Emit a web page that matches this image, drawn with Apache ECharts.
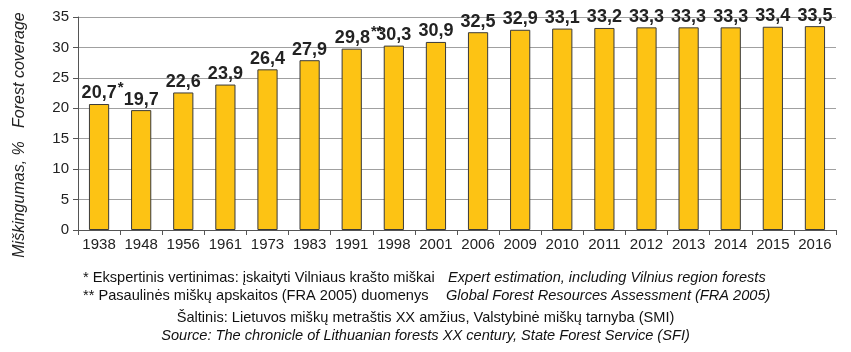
<!DOCTYPE html>
<html>
<head>
<meta charset="utf-8">
<script src="https://cdn.jsdelivr.net/npm/echarts@6/dist/echarts.min.js"></script>
<style>
  html, body { margin: 0; padding: 0; background: #fff; }
  #chart { width: 851px; height: 352px; }
</style>
</head>
<body>
<div id="chart"></div>
<script>
const years = ['1938', '1948', '1956', '1961', '1973', '1983', '1991', '1998', '2001', '2006',
               '2009', '2010', '2011', '2012', '2013', '2014', '2015', '2016'];
const coverage = [20.7, 19.7, 22.6, 23.9, 26.4, 27.9, 29.8, 30.3, 30.9, 32.5,
                  32.9, 33.1, 33.2, 33.3, 33.3, 33.3, 33.4, 33.5];
const notes = ['*', '', '', '', '', '', '**', '', '', '', '', '', '', '', '', '', '', ''];

const chart = echarts.init(document.getElementById('chart'));
const font = 'Liberation Sans, Arial, sans-serif';

const barData = coverage.map(function(v, i) {
    const item = { value: v };
    if (notes[i]) {
        item.label = { offset: [notes[i].length * 3.5, 0] };
    }
    return item;
});

const option = {
    animation: false,
    grid: { left: 78, right: 15, top: 17, bottom: 122 },
    xAxis: {
        type: 'category',
        data: years,
        axisLine: { lineStyle: { color: '#555', width: 1 } },
        axisTick: { show: true, length: 5, lineStyle: { color: '#555' } },
        axisLabel: { interval: 0, color: '#222', fontSize: 15, fontFamily: font, margin: 7 }
    },
    yAxis: {
        type: 'value',
        min: 0,
        max: 35,
        interval: 5,
        axisLine: { show: true, lineStyle: { color: '#555', width: 1 } },
        axisTick: { show: true, length: 5, lineStyle: { color: '#555' } },
        axisLabel: { color: '#222', fontSize: 15, fontFamily: font, margin: 9 },
        splitLine: { lineStyle: { color: '#a0a0a0', width: 1 } }
    },
    series: [{
        type: 'bar',
        data: barData,
        barWidth: '48%',
        itemStyle: { color: '#FDC314', borderColor: '#3a3a3a', borderWidth: 1 },
        label: {
            show: true,
            position: 'top',
            distance: 4,
            formatter: function(p) {
                const s = p.value.toFixed(1).replace('.', ',');
                const n = notes[p.dataIndex];
                return '{v|' + s + '}' + (n ? '{s|' + n + '}' : '');
            },
            rich: {
                v: { fontSize: 18, fontWeight: 'bold', color: '#222', fontFamily: font, lineHeight: 20, padding: [7, 0, 0, 0] },
                s: { fontSize: 15, fontWeight: 'bold', color: '#222', fontFamily: font, lineHeight: 15, verticalAlign: 'top', padding: [0, 0, 0, 1] }
            }
        }
    }],
    graphic: [
        {
            type: 'text', x: 20, y: 135, rotation: Math.PI / 2,
            style: {
                text: 'Miškingumas, %   Forest coverage',
                font: 'italic 16px ' + font, fill: '#222',
                align: 'center', verticalAlign: 'middle'
            }
        },
        {
            type: 'text', left: 83, top: 270,
            style: { text: '* Ekspertinis vertinimas: įskaityti Vilniaus krašto miškai', font: '14.6px ' + font, fill: '#111' }
        },
        {
            type: 'text', left: 448, top: 270,
            style: { text: 'Expert estimation, including Vilnius region forests', font: 'italic 14.6px ' + font, fill: '#111' }
        },
        {
            type: 'text', left: 83, top: 288,
            style: { text: '** Pasaulinės miškų apskaitos (FRA 2005) duomenys', font: '14.6px ' + font, fill: '#111' }
        },
        {
            type: 'text', left: 446, top: 288,
            style: { text: 'Global Forest Resources Assessment (FRA 2005)', font: 'italic 14.6px ' + font, fill: '#111' }
        },
        {
            type: 'text', left: 'center', top: 310,
            style: { text: 'Šaltinis: Lietuvos miškų metraštis XX amžius, Valstybinė miškų tarnyba (SMI)', font: '14.6px ' + font, fill: '#111' }
        },
        {
            type: 'text', left: 'center', top: 328,
            style: { text: 'Source: The chronicle of Lithuanian forests XX century, State Forest Service (SFI)', font: 'italic 14.6px ' + font, fill: '#111' }
        }
    ]
};
chart.setOption(option);
</script>
</body>
</html>
